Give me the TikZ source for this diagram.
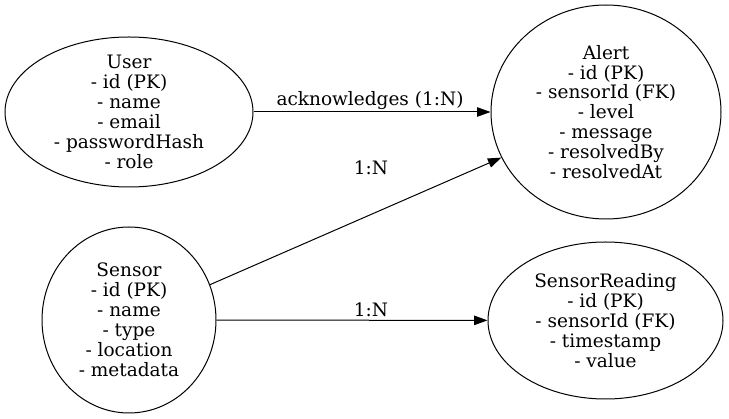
\documentclass[tikz,border=0pt]{standalone}
\usepackage{fontspec}
\setmainfont{DejaVu Serif}
\usetikzlibrary{shapes.geometric,arrows.meta}
\tikzset{
  entity/.style={draw, ellipse, line width=1pt, inner sep=0pt},
  etext/.style={align=center, inner sep=0pt, font=\fontsize{18.5}{19.9}\selectfont},
  rel/.style={draw, line width=1pt, -{Triangle[length=13.5pt,width=9.5pt]}},
  rellabel/.style={inner sep=0pt, font=\fontsize{18.5}{19.9}\selectfont}
}
\begin{document}
\begin{tikzpicture}[x=1pt,y=-1pt]
\useasboundingbox (0,0) rectangle (729,419);
\node[entity, minimum width=248pt, minimum height=150pt] (user) at (129,112) {};
\node[etext] (usertext) at (user.center) {User\\- id (PK)\\- name\\- email\\- passwordHash\\- role};
\node[entity, minimum width=230pt, minimum height=214pt] (alert) at (606,112) {};
\node[etext] (alerttext) at (alert.center) {Alert\\- id (PK)\\- sensorId (FK)\\- level\\- message\\- resolvedBy\\- resolvedAt};
\node[entity, minimum width=174pt, minimum height=186pt] (sensor) at (129,320) {};
\node[etext] (sensortext) at (sensor.center) {Sensor\\- id (PK)\\- name\\- type\\- location\\- metadata};
\node[entity, minimum width=235pt, minimum height=157pt] (reading) at (605.5,320.5) {};
\node[etext] (readingtext) at (reading.center) {SensorReading\\- id (PK)\\- sensorId (FK)\\- timestamp\\- value};
\draw[rel] (user) -- (alert);
\draw[rel] (sensor) -- (alert);
\draw[rel] (sensor) -- (reading);
\node[rellabel] (l1) at (370,101) {acknowledges (1:N)};
\node[rellabel] (l2) at (371,168) {1:N};
\node[rellabel] (l3) at (371,310) {1:N};
\end{tikzpicture}
\end{document}
